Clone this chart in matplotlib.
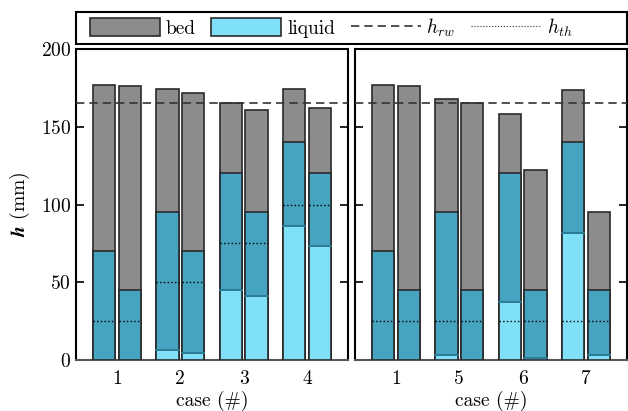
import matplotlib
matplotlib.use('Agg')
import matplotlib.pyplot as plt
from matplotlib.patches import Patch, Rectangle
from matplotlib.lines import Line2D

plt.rcParams['font.family'] = ['cmr10', 'DejaVu Serif']
plt.rcParams['mathtext.fontset'] = 'cm'
plt.rcParams['axes.formatter.use_mathtext'] = True
plt.rcParams['font.size'] = 14

# heights in mm, two bars per case: [first, second]
cases_left = ['1', '2', '3', '4']
bed_left = [[177, 176.5], [174, 172], [165, 161], [174, 162]]
liq_left = [[70, 45], [95, 70], [120, 95], [140, 120]]
free_left = [[0, 0], [6.5, 4.5], [45, 41], [86, 73]]
th_left = [25, 50, 75, 100]

cases_right = ['1', '5', '6', '7']
bed_right = [[177, 176.5], [168, 165.5], [158.5, 122], [173.5, 95]]
liq_right = [[70, 45], [95, 45], [120, 45], [140, 45]]
free_right = [[0, 0], [3, 0], [37.5, 1.5], [81.5, 3]]
th_right = [25, 25, 25, 25]

h_rw = 165

c_bed = '#8c8c8c'
c_liq = '#46a4c0'
c_free = '#80e0f8'
c_edge = '#2a2a2a'

W = 0.35
OFF = 0.2025


def panel(ax, cases, bed, liq, free, th):
    for i in range(len(cases)):
        for j, dx in enumerate((-OFF, OFF)):
            x = i + dx
            ax.bar(x, bed[i][j], W, color=c_bed, edgecolor=c_edge, lw=1.2, zorder=2)
            ax.bar(x, liq[i][j], W, color=c_liq, edgecolor=c_edge, lw=1.2, zorder=3)
            if free[i][j] > 0:
                ax.bar(x, free[i][j], W, color=c_free, edgecolor=c_edge, lw=1.2, zorder=4)
                # darker teal line where the free liquid meets the wet bed
                ax.plot([x - W / 2, x + W / 2], [free[i][j], free[i][j]],
                        color='#2b88a5', lw=1.2, zorder=4.5)
            ax.plot([x - W / 2, x + W / 2], [th[i], th[i]], color='k', ls=':', lw=1.0, zorder=5)
    ax.axhline(h_rw, color='#333333', ls=(0, (5, 3)), lw=1.2, zorder=6)
    ax.set_xlim(-0.65, len(cases) - 0.35)
    ax.set_ylim(0, 200)
    ax.set_xticks(range(len(cases)))
    ax.set_xticklabels(cases)
    ax.set_yticks([0, 50, 100, 150, 200])
    ax.tick_params(axis='x', length=0, pad=7)
    ax.tick_params(axis='y', direction='in', right=True, length=6, width=1.2)
    for s in ax.spines.values():
        s.set_linewidth(1.5)
    ax.spines['bottom'].set_color('#555555')
    ax.set_xlabel('case (#)', labelpad=2)


fig = plt.figure(figsize=(6.28, 4.11), dpi=100)
ax1 = fig.add_axes([76 / 628, 51 / 411, 272 / 628, 311 / 411])
ax2 = fig.add_axes([355 / 628, 51 / 411, 272 / 628, 311 / 411])

panel(ax1, cases_left, bed_left, liq_left, free_left, th_left)
panel(ax2, cases_right, bed_right, liq_right, free_right, th_right)
ax2.set_yticklabels([])
ax1.set_ylabel(r'$\mathbfit{h}$ (mm)', labelpad=6)

handles = [Patch(facecolor=c_bed, edgecolor=c_edge, lw=1.2),
           Patch(facecolor=c_free, edgecolor=c_edge, lw=1.2),
           Line2D([], [], color='#333333', ls=(0, (5, 3)), lw=1.2),
           Line2D([], [], color='#333333', ls=':', lw=0.8)]
labels = ['bed', 'liquid', r'$h_{rw}$', r'$h_{th}$']
fig.legend(handles, labels, loc='center left', bbox_to_anchor=(90 / 628, 1 - 28 / 411),
           ncol=4, frameon=False, handlelength=3.6, handleheight=1.0,
           handletextpad=0.3, columnspacing=0.8, borderpad=0, borderaxespad=0)
fig.patches.append(Rectangle((76 / 628, 1 - 44.5 / 411), 551 / 628, 32.5 / 411,
                             transform=fig.transFigure, fill=False, ec='k', lw=1.5))

fig.savefig('out.png', dpi=100)
